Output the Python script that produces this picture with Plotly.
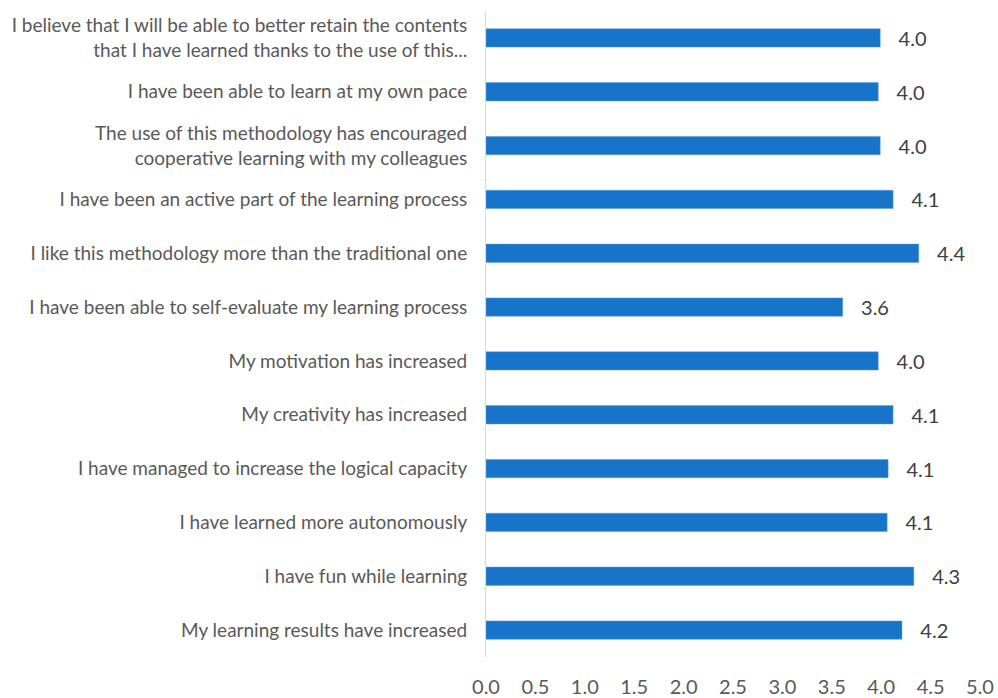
import plotly.graph_objects as go

categories = [
    "I believe that I will be able to better retain the contents<br>that I have learned thanks to the use of this...",
    "I have been able to learn at my own pace",
    "The use of this methodology has encouraged<br>cooperative learning with my colleagues",
    "I have been an active part of the learning process",
    "I like this methodology more than the traditional one",
    "I have been able to self-evaluate my learning process",
    "My motivation has increased",
    "My creativity has increased",
    "I have managed to increase the logical capacity",
    "I have learned more autonomously",
    "I have fun while learning",
    "My learning results have increased",
]
values = [3.99, 3.97, 3.99, 4.12, 4.38, 3.61, 3.97, 4.12, 4.07, 4.06, 4.33, 4.21]
x_ticks = [0.0, 0.5, 1.0, 1.5, 2.0, 2.5, 3.0, 3.5, 4.0, 4.5, 5.0]

FONT = "Lato"

fig = go.Figure(
    go.Bar(
        x=values,
        y=categories,
        orientation="h",
        marker=dict(color="#1874C9", line=dict(color="#5B9BD5", width=0.5)),
        texttemplate="\u00a0\u00a0\u00a0%{x:.1f}",
        textposition="outside",
        constraintext="none",
        cliponaxis=False,
        textfont=dict(family=FONT, size=20, color="#404040"),
        width=0.34,
    )
)

fig.update_layout(
    width=998,
    height=698,
    margin=dict(l=486, r=18, t=11, b=41),
    paper_bgcolor="white",
    plot_bgcolor="white",
    showlegend=False,
    font=dict(family=FONT, color="#595959"),
)
fig.update_xaxes(
    range=[0, 5],
    tickvals=x_ticks,
    tickformat=".1f",
    showgrid=False,
    zeroline=False,
    showline=False,
    automargin=False,
    tickfont=dict(family=FONT, size=20, color="#595959"),
    ticklabelstandoff=16,
)
fig.update_yaxes(
    autorange="reversed",
    showgrid=False,
    showline=True,
    linecolor="#D9D9D9",
    linewidth=1,
    automargin=False,
    tickfont=dict(family=FONT, size=19, color="#595959"),
    ticklabelstandoff=14,
)

fig.write_html(
    "out.html",
    config={"displayModeBar": False},
    post_script="document.body.style.margin='0px';",
)
